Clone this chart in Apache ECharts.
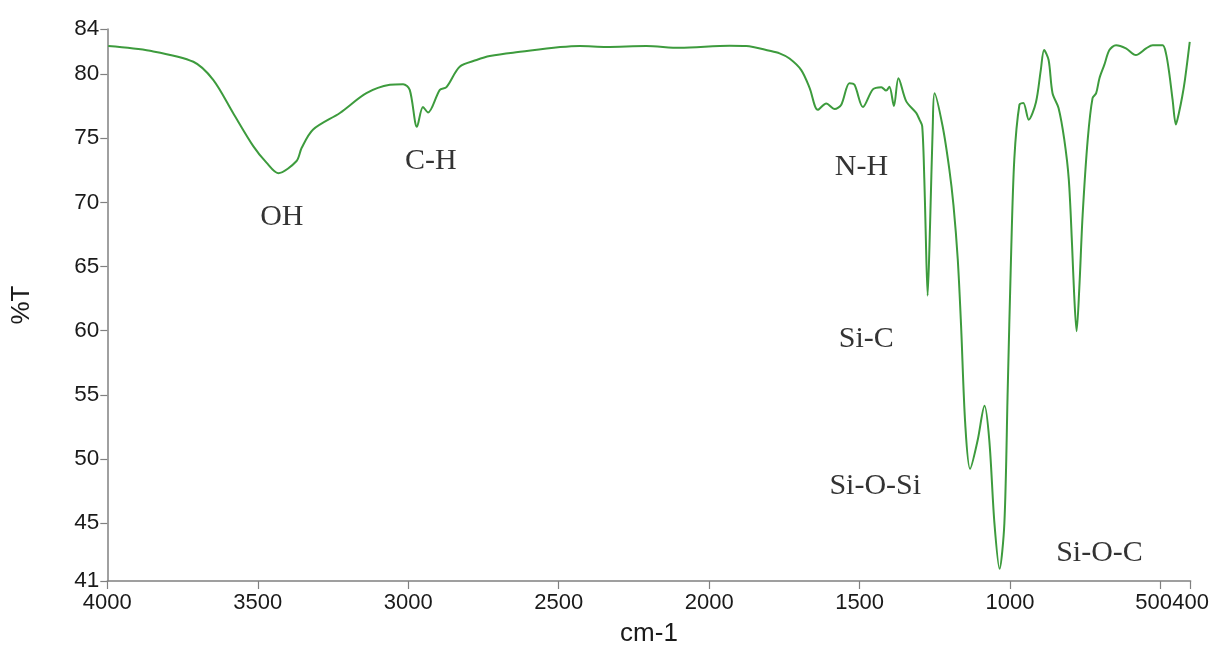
<!DOCTYPE html>
<html>
<head>
<meta charset="utf-8">
<script src="https://cdn.jsdelivr.net/npm/echarts@6/dist/echarts.min.js"></script>
<style>
html,body{margin:0;padding:0;background:#fff;}
#chart{width:1212px;height:652px;}
</style>
</head>
<body>
<div id="chart"></div>
<script>
// Wavenumber (cm-1) and transmittance (%T)
const wavenumbers = [3997,3858,3714,3648,3582,3515,3471,3432,3371,3354,3316,3227,3139,3061,3017,2995,2971,2951,2934,2895,2873,2829,2773,2729,2652,2430,2342,2209,2098,1932,1877,1799,1766,1733,1694,1666,1639,1611,1583,1561,1534,1517,1489,1456,1428,1412,1401,1386,1371,1345,1312,1301,1292,1285,1281,1274,1266,1257,1251,1224,1202,1188,1174,1163,1149,1133,1108,1085,1069,1052,1035,1019,1008,997,986,969,956,938,914,898,887,872,859,839,820,805,794,787,779,770,759,742,726,714,703,687,670,648,615,582,548,526,493,482,471,460,449,439,428,419,403];
const transmittance = [82.17,81.8,80.95,79.54,76.96,74.38,73.09,72.27,73.22,74.25,75.67,76.96,78.5,79.15,79.2,78.76,75.88,77.42,77.0,78.76,78.97,80.56,81.08,81.39,81.65,82.17,82.1,82.17,82.03,82.19,82.17,81.8,81.6,81.2,80.3,78.9,77.2,77.7,77.27,77.6,79.28,79.15,77.42,78.8,78.97,78.7,79.0,77.5,79.67,77.86,76.96,76.44,75.92,71.8,68.2,62.73,68.2,75.9,78.5,75.9,72.58,69.74,65.6,60.46,52.72,49.24,51.44,54.15,51.44,44.99,41.45,45.0,55.3,65.6,73.35,77.6,77.73,76.44,77.8,80.3,81.86,81.08,78.5,77.35,74.9,71.8,66.64,62.78,59.95,63.3,68.97,74.9,78.12,78.5,79.67,80.7,81.86,82.24,81.99,81.47,81.99,82.24,82.24,81.6,80.05,77.99,76.06,76.96,78.24,79.54,82.5];

// Axis ticks
const xTickValues = [4000,3500,3000,2500,2000,1500,1000,500];
const xEndTick = [400];
const yTickValues = [40.5,45,50,55,60,65,70,75,80,83.5];
const yTickLabels = ['41','45','50','55','60','65','70','75','80','84'];

// Band annotations
const bandLabels = ['OH','C-H','N-H','Si-C','Si-O-Si','Si-O-C'];
const bandX = [3420,2925,1494,1478,1448,703];
const bandY = [68.86,73.19,72.73,59.35,47.9,42.65];

const chart = echarts.init(document.getElementById('chart'));
const axisColor = '#808080';
const sans = 'Liberation Sans, Arial, sans-serif';
const labelColor = '#1a1a1a';

chart.setOption({
  animation: false,
  backgroundColor: '#ffffff',
  grid: {left: 107.3, right: 20.6, top: 29, bottom: 67.3, containLabel: false},
  xAxis: [
    {
      type: 'value', inverse: true, min: 400, max: 4000,
      name: 'cm-1', nameLocation: 'middle', nameGap: 40,
      nameTextStyle: {fontSize: 26, fontFamily: sans, color: labelColor},
      axisLine: {show: true, onZero: false, lineStyle: {color: axisColor, width: 1.5}},
      axisTick: {show: true, length: 8, customValues: xTickValues, lineStyle: {color: axisColor, width: 1.2}},
      axisLabel: {
        show: true, customValues: xTickValues, margin: 11, fontSize: 22, fontFamily: sans, color: labelColor,
        hideOverlap: false,
        formatter: function (v) { return v === 500 ? '{s|500}' : String(v); },
        rich: {s: {fontSize: 22, fontFamily: sans, color: labelColor, padding: [0, 14, 0, 0]}}
      },
      splitLine: {show: false}
    },
    {
      type: 'value', inverse: true, min: 400, max: 4000, position: 'bottom',
      axisLine: {show: false},
      axisTick: {show: true, length: 8, customValues: xEndTick, lineStyle: {color: axisColor, width: 1.2}},
      axisLabel: {
        show: true, customValues: xEndTick, margin: 11, fontSize: 22, fontFamily: sans, color: labelColor,
        formatter: function (v) { return String(v); }
      },
      splitLine: {show: false}
    }
  ],
  yAxis: {
    type: 'value', min: 40.5, max: 83.5,
    name: '%T', nameLocation: 'middle', nameGap: 72, nameRotate: 90,
    nameTextStyle: {fontSize: 26, fontFamily: sans, color: labelColor},
    axisLine: {show: true, onZero: false, lineStyle: {color: axisColor, width: 1.5}},
    axisTick: {show: true, length: 7, customValues: yTickValues, lineStyle: {color: axisColor, width: 1.2}},
    axisLabel: {
      show: true, customValues: yTickValues, margin: 8, fontSize: 22.5, fontFamily: sans, color: labelColor,
      showMinLabel: true, showMaxLabel: true,
      formatter: function (v) {
        const i = yTickValues.indexOf(v);
        return i >= 0 ? yTickLabels[i] : '';
      }
    },
    splitLine: {show: false}
  },
  series: [
    {
      type: 'line',
      xAxisIndex: 0,
      data: wavenumbers.map((w, i) => [w, transmittance[i]]),
      showSymbol: false,
      smooth: 0.3,
      lineStyle: {color: '#3d9b3d', width: 2},
      z: 2
    },
    {
      type: 'scatter',
      xAxisIndex: 0,
      symbolSize: 0,
      data: bandLabels.map((n, i) => ({name: n, value: [bandX[i], bandY[i]]})),
      label: {
        show: true, position: 'inside', formatter: '{b}',
        fontFamily: 'Liberation Serif, Times New Roman, serif', fontSize: 30, color: '#000'
      },
      silent: true,
      z: 3
    }
  ]
});
</script>
</body>
</html>
